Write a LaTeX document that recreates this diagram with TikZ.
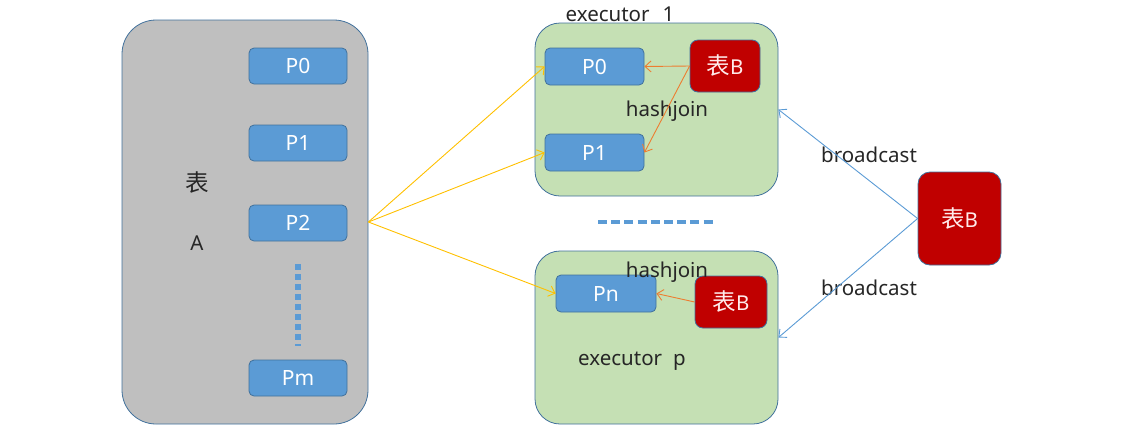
\documentclass[tikz,border=0pt]{standalone}
\usepackage{fontspec}
\setmainfont{Noto Sans}
\newfontfamily\cjk[Scale=1.15]{Noto Sans CJK SC}
\usetikzlibrary{arrows.meta}
\definecolor{pblue}{HTML}{5B9BD5}
\definecolor{bord}{HTML}{41719C}
\definecolor{grayf}{HTML}{BFBFBF}
\definecolor{greenf}{HTML}{C5E0B4}
\definecolor{redf}{HTML}{C00000}
\definecolor{yel}{HTML}{FFC000}
\definecolor{ora}{HTML}{ED7D31}
\definecolor{txt}{HTML}{262626}
\tikzset{
  every node/.style={font=\fontsize{20.5}{24}\selectfont, text=txt},
  pbox/.style={draw=bord, line width=0.8pt, fill=pblue, rounded corners=5pt, minimum width=98pt, minimum height=36pt, inner sep=0pt, text=white, font=\fontsize{21}{24}\selectfont},
  tblbox/.style={draw=bord, line width=0.8pt, fill=grayf, rounded corners=34pt, minimum width=246pt, minimum height=404pt, inner sep=0pt},
  exbox/.style={draw=bord, line width=0.8pt, fill=greenf, rounded corners=25pt, minimum width=243pt, inner sep=0pt},
  redbox/.style={draw=bord, line width=0.8pt, fill=redf, inner sep=0pt, text=white!92!red},
  yarrow/.style={draw=yel, line width=0.9pt, -{Straight Barb[length=6pt,width=11pt]}},
  oarrow/.style={draw=ora, line width=0.9pt, -{Straight Barb[length=6pt,width=11pt]}},
  barrow/.style={draw=pblue, line width=0.9pt, -{Straight Barb[length=6pt,width=11pt]}},
  lbl/.style={inner sep=0pt},
}
\begin{document}
\begin{tikzpicture}[x=1pt,y=-1pt]
\useasboundingbox (0,0) rectangle (1131,432);
% table A
\node[tblbox] (tabA) at (245,222) {};
\node[pbox] (p0a) at (298,66) {P0};
\node[pbox] (p1a) at (298,143) {P1};
\node[pbox] (p2a) at (298,223) {P2};
\node[pbox] (pma) at (298,378) {Pm};
\node[lbl] (biao) at (197,183) {\cjk 表};
\node[lbl] (aa) at (197,243) {A};
\coordinate (dtop) at (298,264);
\coordinate (dbot) at (298,346);
\draw[pblue, line width=5.5pt, dash pattern=on 5.5pt off 4.5pt] (dtop) -- (dbot);
% executor 1
\node[exbox, minimum height=173pt] (ex1) at (656.5,109.5) {};
\node[lbl] (ex1l) at (620,14) {executor\hspace{13pt}1};
\node[pbox, minimum width=99pt, minimum height=37pt] (e1p0) at (594.5,66.5) {P0};
\node[pbox, minimum width=99pt, minimum height=37pt] (e1p1) at (594.5,152.5) {P1};
\node[redbox, rounded corners=8pt, minimum width=70pt, minimum height=52pt] (e1b) at (725,66) {{\cjk 表}B};
\node[lbl] (hj1) at (667,111) {hashjoin};
% dashes
\coordinate (hl) at (598,222);
\coordinate (hr) at (714,222);
\draw[pblue, line width=4pt, dash pattern=on 9pt off 4.2pt] (hl) -- (hr);
% executor p
\node[exbox, minimum height=173pt] (exp) at (656.5,337.5) {};
\node[pbox, minimum width=100pt, minimum height=37pt] (pn) at (606,293.5) {Pn};
\node[redbox, rounded corners=8pt, minimum width=72pt, minimum height=52pt] (epb) at (731,302) {{\cjk 表}B};
\node[lbl] (hj2) at (667,272) {hashjoin};
\node[lbl] (expl) at (632,361) {executor\hspace{11pt}p};
% big B
\node[redbox, rounded corners=12pt, minimum width=83pt, minimum height=93pt] (bigB) at (959.5,218.5) {{\cjk 表}B};
\node[lbl] (bc1) at (869,155) {broadcast};
\node[lbl] (bc2) at (869,288) {broadcast};
% arrows
\draw[yarrow] (tabA.east) -- (e1p0.west);
\draw[yarrow] (tabA.east) -- (e1p1.west);
\draw[yarrow] (tabA.east) -- (pn.west);
\draw[oarrow] (e1b.west) -- (e1p0.east);
\draw[oarrow] (e1b.west) -- (e1p1.east);
\draw[oarrow] (epb.west) -- (pn.east);
\draw[barrow] (bigB.west) -- (ex1.east);
\draw[barrow] (bigB.west) -- (exp.east);
\end{tikzpicture}
\end{document}
